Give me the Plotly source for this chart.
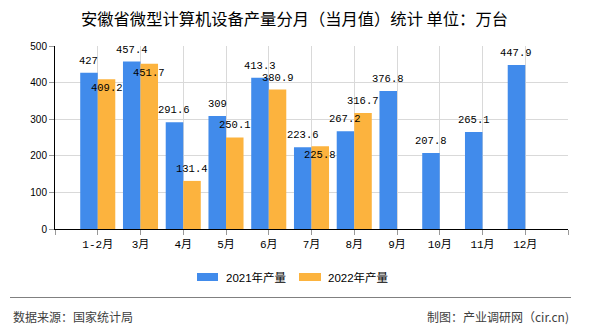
import plotly.graph_objects as go

# ---- data ----
months = ["1-2月", "3月", "4月", "5月", "6月", "7月", "8月", "9月", "10月", "11月", "12月"]
prod_2021 = [427, 457.4, 291.6, 309, 413.3, 223.6, 267.2, 376.8, 207.8, 265.1, 447.9]
prod_2022 = [409.2, 451.7, 131.4, 250.1, 380.9, 225.8, 316.7]
series_names = ["2021年产量", "2022年产量"]
title_text = "安徽省微型计算机设备产量分月（当月值）统计 单位：万台"
source_text = "数据来源：国家统计局"
credit_text = "制图：产业调研网（cir.cn)"

# label placement style for 2022 labels (True = drawn just under bar top)
label_below_2022 = [True, True, False, False, False, True, False]

# ---- style ----
BLUE = "#418BEB"
ORANGE = "#FCB33E"
W, H = 590, 330
L, R, T, B = 55, 22, 46, 101
PW, PH = W - L - R, H - T - B

def px_x(px):
    return (px - L) / PW

def px_y(py):
    return (H - B - py) / PH

xs = list(range(len(months)))

fig = go.Figure()
fig.add_trace(go.Bar(x=xs, y=prod_2021, name=series_names[0], marker_color=BLUE,
                     marker_line_width=0, hoverinfo="skip"))
fig.add_trace(go.Bar(x=xs[:len(prod_2022)], y=prod_2022, name=series_names[1],
                     marker_color=ORANGE, marker_line_width=0, hoverinfo="skip"))

annotations = []
label_font = dict(family="Liberation Mono", size=10.5, color="#000000")
half = 0.205
for i, v in enumerate(prod_2021):
    annotations.append(dict(x=i - half, y=v, xref="x", yref="y", text=f"{v:g}",
                            showarrow=False, xanchor="center", yanchor="bottom",
                            yshift=4, font=label_font))
for i, v in enumerate(prod_2022):
    below = label_below_2022[i]
    annotations.append(dict(x=i + half, y=v, xref="x", yref="y", text=f"{v:g}",
                            showarrow=False, xanchor="center",
                            yanchor="top" if below else "bottom",
                            yshift=-1 if below else 4, font=label_font))

# title
annotations.append(dict(x=px_x(294), y=px_y(18), xref="paper", yref="paper",
                        text=title_text, showarrow=False, xanchor="center", yanchor="middle",
                        font=dict(family="Noto Sans CJK SC", size=16.3, color="#000000")))

# manual legend
legend_font = dict(family="Liberation Sans, Noto Sans CJK SC", size=11.5, color="#000000")
shapes = []
for (x0, x1, tx, col, name) in [(197, 218, 224, BLUE, series_names[0]),
                                (299, 321, 326, ORANGE, series_names[1])]:
    shapes.append(dict(type="rect", xref="paper", yref="paper",
                       x0=px_x(x0), x1=px_x(x1), y0=px_y(281), y1=px_y(273),
                       fillcolor=col, line_width=0))
    annotations.append(dict(x=px_x(tx), y=px_y(277.5), xref="paper", yref="paper",
                            text=name, showarrow=False, xanchor="left", yanchor="middle",
                            font=legend_font))

# footer separator and texts
shapes.append(dict(type="line", xref="paper", yref="paper",
                   x0=px_x(10), x1=px_x(571), y0=px_y(297.5), y1=px_y(297.5),
                   line=dict(color="#808080", width=1.2)))
footer_font = dict(family="Noto Sans CJK SC", size=12, color="#404040")
annotations.append(dict(x=px_x(11), y=px_y(316), xref="paper", yref="paper",
                        text=source_text, showarrow=False, xanchor="left", yanchor="middle",
                        font=footer_font))
annotations.append(dict(x=px_x(571), y=px_y(316), xref="paper", yref="paper",
                        text=credit_text, showarrow=False, xanchor="right", yanchor="middle",
                        font=footer_font))

tickvals = [-1] + xs + [len(months)]
ticktext = [""] + months + [""]

fig.update_layout(
    width=W, height=H,
    margin=dict(l=L, r=R, t=T, b=B),
    paper_bgcolor="#FFFFFF", plot_bgcolor="#FFFFFF",
    barmode="group", bargap=0.18, bargroupgap=0,
    showlegend=False,
    annotations=annotations, shapes=shapes,
    xaxis=dict(range=[-1, len(months)], tickmode="array", tickvals=tickvals, ticktext=ticktext,
               showgrid=True, gridcolor="#D9D9D9", gridwidth=1,
               showline=True, linecolor="#000000", linewidth=1,
               ticks="outside", ticklen=5, tickcolor="#999999",
               tickfont=dict(family="Liberation Mono, Noto Sans CJK SC", size=11, color="#000000"),
               zeroline=False, fixedrange=True),
    yaxis=dict(range=[0, 500], tickmode="linear", tick0=0, dtick=100,
               showgrid=True, gridcolor="#D9D9D9", gridwidth=1,
               showline=True, linecolor="#000000", linewidth=1,
               ticks="outside", ticklen=5, tickcolor="#999999",
               tickfont=dict(family="Liberation Sans", size=10, color="#000000"),
               zeroline=False, fixedrange=True),
)

fig.write_html("out.html", config={"displayModeBar": False})
